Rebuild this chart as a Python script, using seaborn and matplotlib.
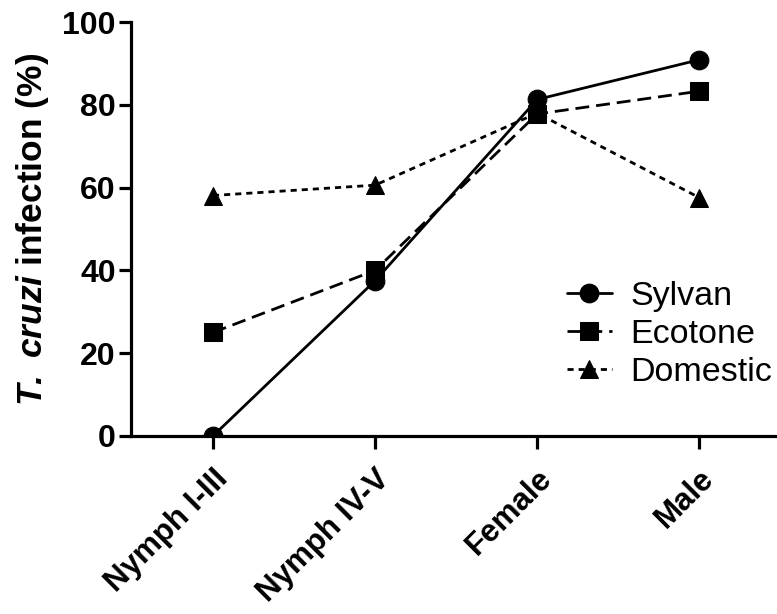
import matplotlib
matplotlib.use("Agg")
import matplotlib.pyplot as plt
import seaborn as sns
import pandas as pd

# Infection rates by developmental stage for each habitat
stages = ["Nymph I-III", "Nymph IV-V", "Female", "Male"]
sylvan = [0.0, 37.5, 81.3, 90.9]
ecotone = [25.0, 40.0, 77.8, 83.3]
domestic = [58.1, 60.6, 78.0, 57.6]
habitats = ["Sylvan", "Ecotone", "Domestic"]
y_ticks = [0, 20, 40, 60, 80, 100]

sns.set_theme(style="ticks")
plt.rcParams["font.family"] = ["Liberation Sans", "DejaVu Sans"]
plt.rcParams["mathtext.fontset"] = "custom"
plt.rcParams["mathtext.bfit"] = "Liberation Sans:italic:bold"
plt.rcParams["mathtext.rm"] = "Liberation Sans:bold"
for key in ["text.color", "axes.labelcolor", "xtick.color", "ytick.color",
            "axes.edgecolor"]:
    plt.rcParams[key] = "black"

rows = []
for name, vals in zip(habitats, [sylvan, ecotone, domestic]):
    for i, (stage, v) in enumerate(zip(stages, vals)):
        rows.append({"pos": i, "stage": stage, "value": v, "habitat": name})
df = pd.DataFrame(rows)

fig = plt.figure(figsize=(7.77, 6.14), dpi=100)
ax = fig.add_axes([0.1686, 0.290, 0.8314, 0.674])

sns.lineplot(
    data=df, x="pos", y="value", hue="habitat", style="habitat",
    hue_order=habitats, style_order=habitats,
    palette=["black"] * 3,
    markers={"Sylvan": "o", "Ecotone": "s", "Domestic": "^"},
    dashes={"Sylvan": "", "Ecotone": (5, 2.5), "Domestic": (2.2, 1.8)},
    markersize=13.5, linewidth=2, markeredgecolor="black",
    sort=False, errorbar=None, ax=ax,
)

ax.set_xlim(-0.506, 3.48)
ax.set_ylim(0, 100)
ax.set_yticks(y_ticks)
ax.set_xticks(range(len(stages)))
ax.set_xticklabels(stages, rotation=45, ha="right", va="top",
                   rotation_mode="anchor", fontsize=22.5, fontweight="bold",
                   color="black")
ax.set_yticklabels([str(t) for t in y_ticks], fontsize=23, fontweight="bold",
                   color="black")
ax.set_xlabel("")
ax.set_ylabel(r"$\mathbfit{T.}$ $\mathbfit{cruzi}$ infection (%)", fontsize=25.5,
              fontweight="bold", labelpad=8, color="black")

for side in ["top", "right"]:
    ax.spines[side].set_visible(False)
for side in ["left", "bottom"]:
    ax.spines[side].set_linewidth(2.3)
    ax.spines[side].set_color("black")
ax.tick_params(axis="both", width=2.3, length=9, color="black", pad=2)
ax.tick_params(axis="x", pad=11)
ax.set_facecolor("white")

handles, labels = ax.get_legend_handles_labels()
leg = ax.legend(handles, labels, loc="center left",
                bbox_to_anchor=(0.628, 0.245), frameon=False,
                fontsize=24.5, handlelength=1.3, handletextpad=0.55,
                labelspacing=0.2)
for t in leg.get_texts():
    t.set_color("black")

fig.savefig("out.png", dpi=100, facecolor="white")
